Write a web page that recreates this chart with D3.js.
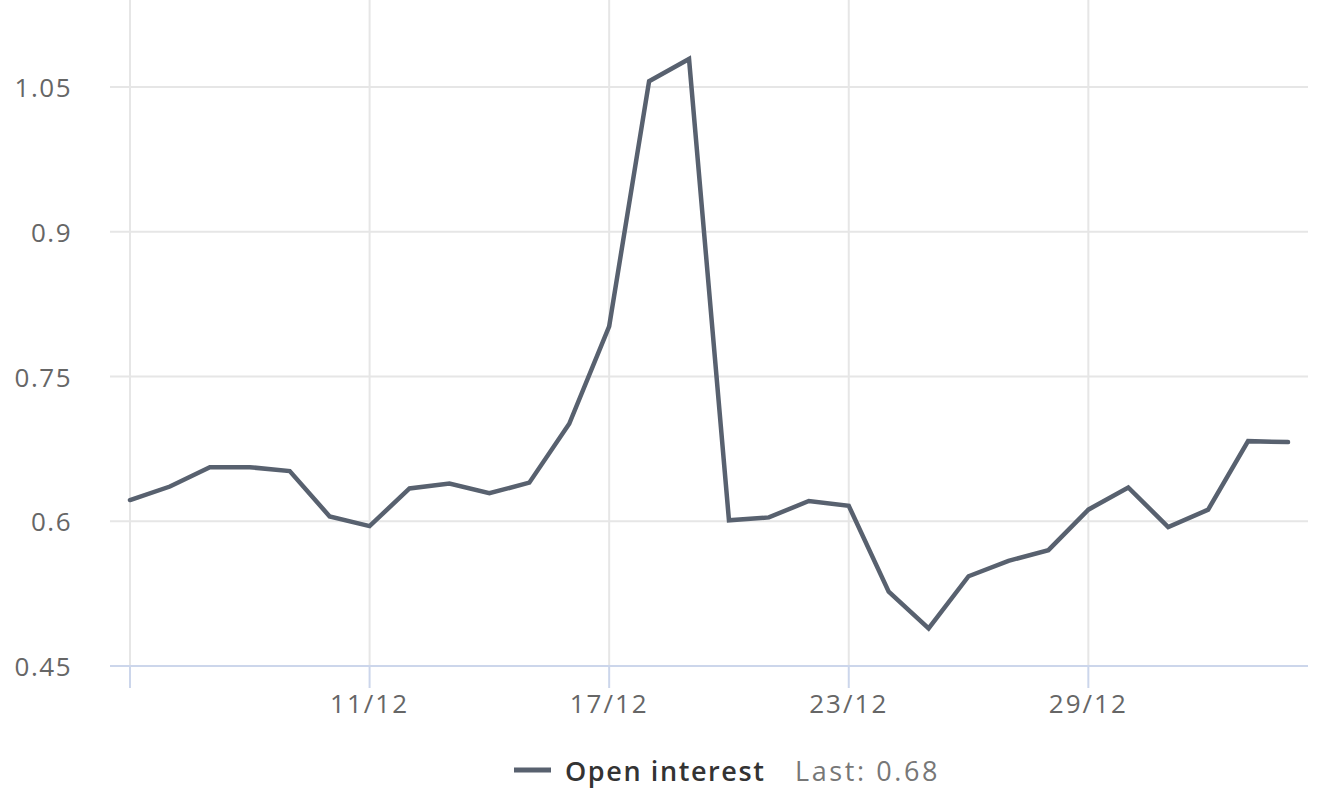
<!DOCTYPE html>
<html><head><meta charset="utf-8">
<script src="https://cdn.jsdelivr.net/npm/d3@7"></script>
<style>body{margin:0;background:#fff}svg{display:block;font-family:"Open Sans",sans-serif}</style>
</head><body><svg id="c" width="1330" height="797"></svg>
<script>
const dates = ["2023-12-05","2023-12-06","2023-12-07","2023-12-08","2023-12-09","2023-12-10","2023-12-11","2023-12-12","2023-12-13","2023-12-14","2023-12-15","2023-12-16","2023-12-17","2023-12-18","2023-12-19","2023-12-20","2023-12-21","2023-12-22","2023-12-23","2023-12-24","2023-12-25","2023-12-26","2023-12-27","2023-12-28","2023-12-29","2023-12-30","2023-12-31","2024-01-01","2024-01-02","2024-01-03"];
const openInterest = [0.622,0.636,0.656,0.656,0.652,0.605,0.595,0.634,0.639,0.629,0.640,0.701,0.802,1.056,1.079,0.601,0.604,0.621,0.616,0.527,0.489,0.543,0.559,0.570,0.612,0.635,0.594,0.612,0.683,0.682];
const yTicks = [0.45,0.6,0.75,0.9,1.05];
const xTickDates = ["2023-12-05","2023-12-11","2023-12-17","2023-12-23","2023-12-29"];
const seriesName = "Open interest";
const lastLabel = "Last: 0.68";

(function(){
const parse = d3.timeParse("%Y-%m-%d");
const data = dates.map((d,i)=>({date:parse(d), v:openInterest[i]}));
const svg = d3.select("#c");
const pl=110, pr=1308, pt=0, pb=666;
const x = d3.scaleTime().domain([parse("2023-12-05"), parse("2024-01-03")]).range([130,1288]);
const y = d3.scaleLinear().domain([0.45,1.05]).range([666,87]);

svg.append("g").selectAll("line").data(yTicks.filter(t=>t!==0.45)).join("line")
  .attr("x1",pl).attr("x2",pr).attr("y1",d=>y(d)).attr("y2",d=>y(d))
  .attr("stroke","#e6e6e6").attr("stroke-width",2);
const xt = xTickDates.map(parse);
svg.append("g").selectAll("line").data(xt).join("line")
  .attr("x1",d=>x(d)).attr("x2",d=>x(d)).attr("y1",pt).attr("y2",pb)
  .attr("stroke","#e6e6e6").attr("stroke-width",2);
svg.append("line").attr("x1",pl).attr("x2",pr).attr("y1",pb).attr("y2",pb)
  .attr("stroke","#ccd6eb").attr("stroke-width",2);
svg.append("g").selectAll("line").data(xt).join("line")
  .attr("x1",d=>x(d)).attr("x2",d=>x(d)).attr("y1",pb).attr("y2",688)
  .attr("stroke","#ccd6eb").attr("stroke-width",2);
const fmt = d3.timeFormat("%-d/%m");
svg.append("g").selectAll("text").data(xt.slice(1)).join("text")
  .attr("x",d=>x(d)).attr("y",713).attr("text-anchor","middle")
  .attr("font-size",26).attr("letter-spacing",2).attr("fill","#666").text(d=>fmt(d));
svg.append("g").selectAll("text").data(yTicks).join("text")
  .attr("x",72).attr("y",d=>y(d)+10).attr("text-anchor","end")
  .attr("font-size",26).attr("letter-spacing",1.5).attr("fill","#666").text(d=>d3.format("")(d));
svg.append("path").datum(data)
  .attr("d",d3.line().x(d=>x(d.date)).y(d=>y(d.v)))
  .attr("fill","none").attr("stroke","#58616f").attr("stroke-width",4.5)
  .attr("stroke-linejoin","miter").attr("stroke-linecap","round");
svg.append("line").attr("x1",514).attr("x2",551).attr("y1",770).attr("y2",770)
  .attr("stroke","#58616f").attr("stroke-width",5);
svg.append("text").attr("x",565).attr("y",781).attr("font-size",27).attr("font-weight",600)
  .attr("letter-spacing",1.6).attr("fill","#333").text(seriesName);
svg.append("text").attr("x",795).attr("y",781).attr("font-size",27)
  .attr("letter-spacing",2.6).attr("fill","#777").text(lastLabel);
})();
</script></body></html>
